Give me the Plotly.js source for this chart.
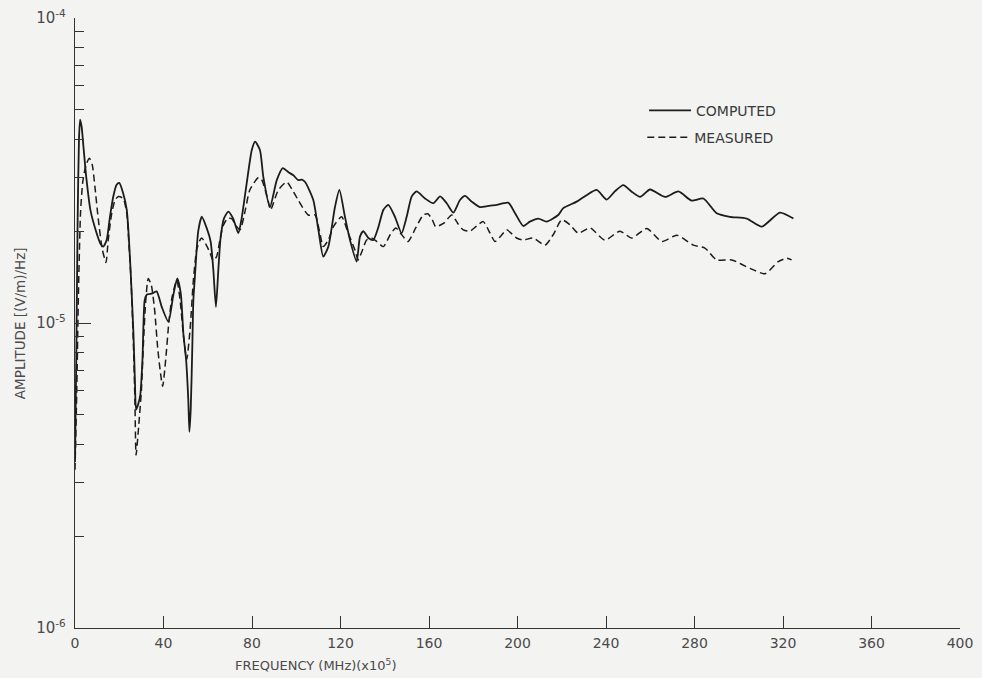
<!DOCTYPE html>
<html>
<head>
<meta charset="utf-8">
<script src="https://cdn.plot.ly/plotly-3.0.1.min.js"></script>
<style>
  html, body { margin: 0; padding: 0; background: #f3f3f2; }
  #chart { width: 982px; height: 678px; }
</style>
</head>
<body>
<div id="chart"></div>
<script>
// Frequency axis in units of 10^5 MHz, amplitude in (V/m)/Hz
const computedFreq = [0, 0.6, 1.2, 1.8, 2.3, 3.0, 3.8, 5.0, 7.0, 9.5, 11.5, 12.8, 14.3, 15.8, 17.3, 18.8, 20.0,
  21.8, 23.4, 24.4, 25.3, 26.4, 27.1, 27.6, 28.5, 29.5, 30.5, 31.5, 32.5, 35.0, 36.9, 39.2, 42.2, 44.4, 46.2,
  47.8, 49.0, 50.2, 51.2, 51.7, 52.3, 53.0, 53.5, 54.2, 55.7, 57.3, 59.5, 61.3, 62.5, 63.7, 64.8, 65.8, 67.3,
  69.3, 71.5, 73.8, 75.3, 77.6, 79.9, 81.4, 83.6, 85.1, 88.1, 91.2, 93.9, 96.5, 98.7, 100.9, 102.5, 104.0,
  107.7, 110.0, 112.2, 114.5, 117.5, 119.5, 122.0, 124.3, 127.3, 128.8, 130.3, 132.6, 134.8, 137.0, 139.4,
  141.6, 144.6, 147.6, 149.9, 152.2, 154.4, 158.2, 162.0, 165.0, 168.0, 171.0, 174.0, 176.3, 179.3, 183.0,
  186.8, 190.6, 195.8, 198.9, 202.6, 205.6, 209.4, 213.2, 218.4, 220.7, 226.8, 231.0, 235.8, 240.3, 244.0,
  247.8, 251.5, 255.4, 259.9, 266.7, 272.7, 278.7, 284.0, 290.0, 296.0, 303.6, 310.4, 318.6, 324.7];
const computedAmp = [3.5e-6, 8e-6, 2.2e-5, 4.0e-5, 4.64e-5, 4.4e-5, 3.8e-5, 3.05e-5, 2.34e-5, 2.0e-5, 1.82e-5,
  1.78e-5, 1.87e-5, 2.23e-5, 2.6e-5, 2.84e-5, 2.88e-5, 2.66e-5, 2.35e-5, 1.87e-5, 1.4e-5, 9.3e-6, 6.4e-6,
  5.2e-6, 5.4e-6, 5.8e-6, 7.6e-6, 1.19e-5, 1.24e-5, 1.25e-5, 1.27e-5, 1.13e-5, 1.01e-5, 1.23e-5, 1.40e-5,
  1.25e-5, 9.2e-6, 7.6e-6, 5.6e-6, 4.4e-6, 5.2e-6, 8.2e-6, 1.19e-5, 1.42e-5, 2.0e-5, 2.23e-5, 2.05e-5,
  1.85e-5, 1.5e-5, 1.13e-5, 1.5e-5, 1.9e-5, 2.2e-5, 2.32e-5, 2.2e-5, 1.97e-5, 2.2e-5, 2.87e-5, 3.69e-5,
  3.93e-5, 3.69e-5, 3.02e-5, 2.4e-5, 2.94e-5, 3.22e-5, 3.12e-5, 3.05e-5, 2.94e-5, 2.95e-5, 2.9e-5, 2.53e-5,
  2.02e-5, 1.65e-5, 1.78e-5, 2.4e-5, 2.73e-5, 2.23e-5, 1.87e-5, 1.59e-5, 1.92e-5, 2.0e-5, 1.9e-5, 1.87e-5,
  2.05e-5, 2.35e-5, 2.44e-5, 2.23e-5, 1.97e-5, 2.23e-5, 2.6e-5, 2.7e-5, 2.56e-5, 2.47e-5, 2.6e-5, 2.47e-5,
  2.3e-5, 2.53e-5, 2.61e-5, 2.5e-5, 2.4e-5, 2.42e-5, 2.44e-5, 2.48e-5, 2.29e-5, 2.08e-5, 2.15e-5, 2.2e-5,
  2.15e-5, 2.26e-5, 2.38e-5, 2.5e-5, 2.62e-5, 2.73e-5, 2.54e-5, 2.7e-5, 2.83e-5, 2.7e-5, 2.59e-5, 2.74e-5,
  2.59e-5, 2.7e-5, 2.52e-5, 2.56e-5, 2.29e-5, 2.23e-5, 2.2e-5, 2.07e-5, 2.3e-5, 2.2e-5];

const measuredFreq = [0, 0.8, 1.5, 2.5, 3.5, 5.0, 6.5, 7.8, 9.0, 10.5, 12.3, 14.0, 15.0, 16.6, 18.1, 19.6, 21.8,
  23.4, 24.4, 25.3, 26.4, 27.1, 27.6, 29.0, 30.0, 31.0, 32.0, 33.1, 34.5, 36.0, 37.5, 39.6, 41.0, 42.5, 44.0,
  46.0, 47.5, 49.0, 50.5, 52.0, 53.5, 55.0, 56.5, 57.3, 59.0, 61.0, 62.5, 64.0, 65.5, 67.0, 69.0, 70.8, 72.5,
  74.6, 77.0, 79.0, 82.9, 84.4, 87.4, 88.4, 91.9, 95.7, 98.0, 101.0, 105.4, 108.5, 110.5, 112.2, 114.5, 116.8,
  120.5, 123.5, 126.6, 128.0, 129.6, 131.8, 134.0, 136.4, 139.4, 142.5, 145.0, 147.6, 150.5, 154.0, 157.4,
  159.5, 161.5, 163.0, 166.5, 170.3, 173.0, 175.5, 178.5, 181.5, 184.5, 187.6, 189.8, 192.5, 195.1, 199.6,
  202.6, 207.0, 212.4, 216.2, 220.0, 223.7, 227.5, 232.8, 239.5, 246.3, 251.6, 258.4, 265.2, 272.0, 279.5,
  284.7, 290.0, 296.8, 305.1, 311.9, 317.9, 321.7, 323.9];
const measuredAmp = [3.3e-6, 6e-6, 1.19e-5, 2.3e-5, 2.9e-5, 3.3e-5, 3.47e-5, 3.3e-5, 2.8e-5, 2.2e-5, 1.75e-5,
  1.58e-5, 1.87e-5, 2.29e-5, 2.53e-5, 2.6e-5, 2.56e-5, 2.29e-5, 1.8e-5, 1.4e-5, 8.5e-6, 5.5e-6, 3.69e-6,
  4.8e-6, 6.0e-6, 8.8e-6, 1.19e-5, 1.40e-5, 1.33e-5, 1.1e-5, 8.1e-6, 6.2e-6, 7.6e-6, 1.02e-5, 1.23e-5,
  1.38e-5, 1.19e-5, 9.1e-6, 7.6e-6, 9.5e-6, 1.38e-5, 1.74e-5, 1.87e-5, 1.9e-5, 1.82e-5, 1.7e-5, 1.6e-5,
  1.65e-5, 1.87e-5, 2.09e-5, 2.2e-5, 2.2e-5, 2.1e-5, 2.02e-5, 2.35e-5, 2.73e-5, 3.0e-5, 2.95e-5, 2.5e-5,
  2.35e-5, 2.73e-5, 2.9e-5, 2.75e-5, 2.52e-5, 2.26e-5, 2.26e-5, 2.0e-5, 1.78e-5, 1.87e-5, 2.07e-5, 2.23e-5,
  1.97e-5, 1.73e-5, 1.61e-5, 1.71e-5, 1.87e-5, 1.9e-5, 1.85e-5, 1.78e-5, 1.95e-5, 2.05e-5, 1.95e-5, 1.85e-5,
  2.05e-5, 2.26e-5, 2.28e-5, 2.18e-5, 2.07e-5, 2.12e-5, 2.26e-5, 2.12e-5, 2.02e-5, 2.0e-5, 2.08e-5, 2.15e-5,
  1.97e-5, 1.85e-5, 1.93e-5, 2.02e-5, 1.9e-5, 1.87e-5, 1.9e-5, 1.8e-5, 1.95e-5, 2.18e-5, 2.1e-5, 1.97e-5,
  2.05e-5, 1.87e-5, 2.0e-5, 1.9e-5, 2.04e-5, 1.85e-5, 1.94e-5, 1.8e-5, 1.76e-5, 1.61e-5, 1.61e-5, 1.51e-5,
  1.45e-5, 1.59e-5, 1.63e-5, 1.61e-5];

const seriesNames = ['COMPUTED', 'MEASURED'];
const xTickVals = [0, 40, 80, 120, 160, 200, 240, 280, 320, 360, 400];
const yTickVals = [1e-6, 1e-5, 1e-4];
const yTickText = ['10<sup>-6</sup>', '10<sup>-5</sup>', '10<sup>-4</sup>'];
const xTitle = 'FREQUENCY (MHz)(x10<sup>5</sup>)';
const yTitle = 'AMPLITUDE [(V/m)/Hz]';

// minor ticks at 2..9 within each decade
const yMinorVals = [];
for (const dec of [1e-6, 1e-5]) {
  for (let k = 2; k <= 9; k++) yMinorVals.push(k * dec);
}

const ink = '#1c1c1c';
const textInk = '#4a4a4a';
const font = 'DejaVu Sans, Liberation Sans, sans-serif';

const traces = [
  {
    x: computedFreq, y: computedAmp, name: seriesNames[0], type: 'scatter', mode: 'lines',
    line: { color: ink, width: 1.8, shape: 'spline', smoothing: 0.6 },
    legend: 'legend'
  },
  {
    x: measuredFreq, y: measuredAmp, name: seriesNames[1], type: 'scatter', mode: 'lines',
    line: { color: ink, width: 1.5, dash: '7px,4px', shape: 'spline', smoothing: 0.6 },
    legend: 'legend2'
  }
];

const legendStyle = {
  bgcolor: 'rgba(0,0,0,0)', borderwidth: 0,
  font: { family: font, size: 14, color: '#3a3a3a' },
  xanchor: 'left', yanchor: 'middle', itemwidth: 42
};

const layout = {
  width: 982, height: 678,
  margin: { l: 75, r: 22, t: 18, b: 50 },
  paper_bgcolor: '#f3f3f2',
  plot_bgcolor: '#f3f3f2',
  font: { family: font, color: textInk },
  showlegend: true,
  legend: Object.assign({ x: 0.643, y: 0.848 }, legendStyle),
  legend2: Object.assign({ x: 0.641, y: 0.804 }, legendStyle),
  xaxis: {
    range: [0, 400], showgrid: false, zeroline: false,
    showline: true, linecolor: '#333', linewidth: 1,
    tickmode: 'array', tickvals: xTickVals,
    ticks: 'inside', ticklen: 12, tickwidth: 1, tickcolor: '#333',
    tickfont: { family: font, size: 14, color: textInk },
    ticklabelstandoff: 2
  },
  yaxis: {
    type: 'log', range: [-6, -4], showgrid: false, zeroline: false,
    showline: true, linecolor: '#333', linewidth: 1.2,
    tickmode: 'array', tickvals: yTickVals, ticktext: yTickText,
    ticks: 'inside', ticklen: 16, tickwidth: 1, tickcolor: '#333',
    tickfont: { family: font, size: 15, color: textInk },
    ticklabelstandoff: 5,
    minor: { tickmode: 'array', tickvals: yMinorVals, ticks: 'inside', ticklen: 9, tickwidth: 1, tickcolor: '#333' }
  },
  annotations: [
    {
      text: xTitle, xref: 'paper', yref: 'paper', x: 0.272, y: -0.06,
      xanchor: 'center', yanchor: 'middle', showarrow: false,
      font: { family: font, size: 13, color: textInk }
    },
    {
      text: yTitle, xref: 'paper', yref: 'paper', x: -0.062, y: 0.5, textangle: -90,
      xanchor: 'center', yanchor: 'middle', showarrow: false,
      font: { family: font, size: 13.5, color: textInk }
    }
  ]
};

Plotly.newPlot('chart', traces, layout, { displayModeBar: false, staticPlot: true });
</script>
</body>
</html>
